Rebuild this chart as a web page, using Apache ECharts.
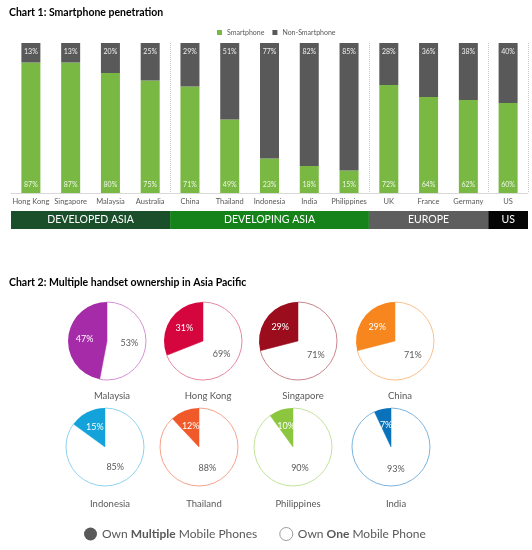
<!DOCTYPE html>
<html><head><meta charset="utf-8">
<script src="https://cdn.jsdelivr.net/npm/echarts@6/dist/echarts.min.js"></script>
<style>html,body{margin:0;padding:0;background:#fff}#c{width:532px;height:550px}</style>
</head><body><div id="c"></div>
<script>
// ---- data ----
const categories = ['Hong Kong','Singapore','Malaysia','Australia','China','Thailand','Indonesia','India','Philippines','UK','France','Germany','US'];
const smartphone = [87,87,80,75,71,49,23,18,15,72,64,62,60];
const nonSmartphone = [13,13,20,25,29,51,77,82,85,28,36,38,40];
const regions = ['DEVELOPED ASIA','DEVELOPING ASIA','EUROPE','US'];
const regionCounts = [4,5,3,1];
const pieCountries = ['Malaysia','Hong Kong','Singapore','China','Indonesia','Thailand','Philippines','India'];
const ownMultiple = [47,31,29,29,15,12,10,7];
const ownOne = [53,69,71,71,85,88,90,93];
const MULTI = 'Own Multiple Mobile Phones';
const ONE = 'Own One Mobile Phone';

// ---- styles / layout ----
const FONT = 'Lato';
const regionColors = ['#1b4f2b','#16821a','#5e5e5e','#050505'];
const pieColors = ['#a62ba8','#d5053d','#9b0d1c','#f7861e','#13a3da','#f0592a','#8cc63e','#0a72ba'];
const pieOutline = ['#d690d6','#e8869d','#c9848b','#fbbf8a','#8fd2ee','#f5a38b','#c3e39b','#7bb3dd'];
const pieX = [[107,203,298,395],[105,199,293,391]];
const pieY = [341,447];
const pieR = 39;
const nameY = [386,494];

const boundaries = [];
regionCounts.reduce((s,c)=>{ s+=c; boundaries.push(s); return s; },0);

const chart = echarts.init(document.getElementById('c'));

const titles = [
  {text:'Chart 1: Smartphone penetration', left:4, top:2, textStyle:{fontFamily:FONT,fontSize:10.5,fontWeight:'bold',color:'#000'}},
  {text:'Chart 2: Multiple handset ownership in Asia Pacific', left:4, top:272, textStyle:{fontFamily:FONT,fontSize:10.5,fontWeight:'bold',color:'#000'}}
];
const series = [
  {name:'Smartphone', type:'bar', stack:'s', data:smartphone, barWidth:19, itemStyle:{color:'#78b843'},
   label:{show:true, position:'insideBottom', distance:5, formatter:'{c}%', color:'#eef5e6', fontSize:7, fontFamily:FONT}},
  {name:'Non-Smartphone', type:'bar', stack:'s', data:nonSmartphone, barWidth:19, itemStyle:{color:'#595959'},
   label:{show:true, position:'insideTop', distance:5, formatter:'{c}%', color:'#eeeeee', fontSize:7, fontFamily:FONT}}
];
regions.forEach((r,i)=>{
  series.push({name:r, type:'bar', stack:'r', xAxisIndex:1, yAxisIndex:1, data:[regionCounts[i]], barWidth:18,
    itemStyle:{color:regionColors[i]}, silent:true,
    label:{show:true, position:'inside', formatter:r, color:'#fff', fontSize:10.5, fontFamily:FONT}});
});
pieCountries.forEach((c,i)=>{
  const row = i<4?0:1, col = i%4;
  const cx = pieX[row][col], cy = pieY[row];
  series.push({type:'pie', radius:pieR, center:[cx,cy], startAngle:90, clockwise:true, silent:true,
    label:{show:true, position:'inside', fontSize:9, fontFamily:FONT, formatter:'{c}%'},
    labelLine:{show:false},
    data:[
      {name:ONE, value:ownOne[i], itemStyle:{color:'#fff', borderColor:pieOutline[i], borderWidth:1}, label:{color:'#595959'}},
      {name:MULTI, value:ownMultiple[i], itemStyle:{color:pieColors[i], borderWidth:0}, label:{color:'#fff'}}
    ]});
  titles.push({text:c, left:cx, top:nameY[row], textAlign:'center', textStyle:{fontFamily:FONT, fontSize:9.5, fontWeight:'normal', color:'#595959'}});
});

chart.setOption({
  animation:false,
  title:titles,
  legend:[
    {data:['Smartphone','Non-Smartphone'], left:212, top:24, icon:'rect', itemWidth:5, itemHeight:5, itemGap:8,
     textStyle:{fontSize:7, color:'#595959', fontFamily:FONT}, selectedMode:false},
    {data:[{name:MULTI, itemStyle:{color:'#595959'}}, {name:ONE, itemStyle:{color:'#fff', borderColor:'#9a9a9a', borderWidth:1}}],
     left:79, top:522, icon:'circle', itemWidth:13, itemHeight:13, itemGap:22, selectedMode:false,
     formatter:n=> n===MULTI ? '{n|Own }{b|Multiple}{n| Mobile Phones}' : '{n|Own }{b|One}{n| Mobile Phone}',
     textStyle:{fontFamily:FONT, fontSize:12, color:'#595959', rich:{n:{fontFamily:FONT,fontSize:12,color:'#595959'}, b:{fontFamily:FONT,fontSize:12,color:'#595959',fontWeight:'bold'}}}}
  ],
  grid:[
    {left:11, right:4, top:43, height:150},
    {left:11, right:4, top:211, height:18}
  ],
  xAxis:[
    {type:'category', data:categories, gridIndex:0,
     axisLine:{lineStyle:{color:'#d9d9d9'}}, axisTick:{show:false},
     axisLabel:{fontSize:7.5, color:'#595959', margin:5, fontFamily:FONT, interval:0},
     splitLine:{show:true, interval:(idx)=>boundaries.slice(0,-1).indexOf(idx)>=0, lineStyle:{type:'dotted', color:'#c8c8c8'}}},
    {type:'value', gridIndex:1, min:0, max:categories.length, show:false}
  ],
  yAxis:[
    {type:'value', gridIndex:0, min:0, max:100, show:false},
    {type:'category', gridIndex:1, data:['r'], show:false}
  ],
  series:series
});
</script></body></html>
